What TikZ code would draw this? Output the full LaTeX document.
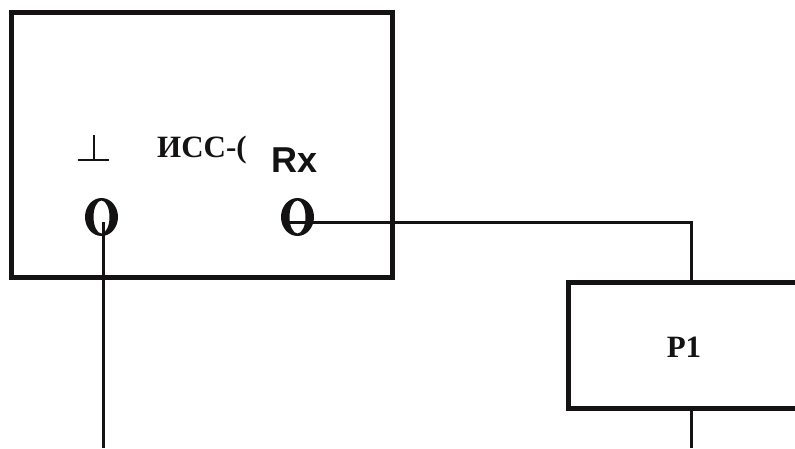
\documentclass[tikz,border=0pt]{standalone}
\usepackage{fontspec}
\setmainfont{Liberation Serif}
\newfontfamily\sansb{Liberation Sans}[BoldFont=* Bold]
\definecolor{ink}{HTML}{141213}
\tikzset{
  x=1pt,y=1pt,
  heavybox/.style={draw=ink,line width=5pt,minimum width=#1,inner sep=0pt,outer sep=0pt},
  wire/.style={draw=ink,line width=3pt,line join=miter},
  thinwire/.style={draw=ink,line width=2.4pt},
  serifl/.style={text=ink,inner sep=0pt,font=\fontsize{31}{31}\selectfont\bfseries,anchor=base west},
  sansl/.style={text=ink,inner sep=0pt,font=\fontsize{36}{36}\selectfont\sansb\bfseries,anchor=base west},
  ring/.style={fill=ink,even odd rule},
}
\begin{document}
\begin{tikzpicture}
\useasboundingbox (0,0) rectangle (795,-448);
\clip (0,0) rectangle (795,-448);
\fill[white] (0,0) rectangle (795,-448);
% boxes
\node[heavybox=381pt,minimum height=265pt] (iss) at (201.5,-145) {};
\node[heavybox=260pt,minimum height=126pt] (pone) at (698.5,-345) {};
% labels
\begin{scope}
\clip (150,-125) rectangle (245,-170);
\node[serifl] (isslabel) at (157,-157) {ИСС-(};
\end{scope}
\node[sansl] (rxlabel) at (271,-172) {Rx};
\node[serifl,anchor=base] (ponelabel) at (684,-357) {P1};
% ground symbol
\coordinate (gndL) at (78,-160);
\coordinate (gndR) at (109,-160);
\coordinate (gndM) at (94,-160);
\coordinate (gndT) at (94,-135);
\draw[thinwire] (gndL) -- (gndR);
\draw[thinwire] (gndM) -- (gndT);
% port rings
\fill[ring] (101.5,-217) ellipse [x radius=16.5,y radius=19] (101.5,-217) ellipse [x radius=8,y radius=16.5];
\fill[ring] (297.5,-217) ellipse [x radius=16.5,y radius=19] (297.5,-217) ellipse [x radius=8,y radius=16.5];
\coordinate (gndpin) at (103,-222);
\coordinate (rxpin) at (290,-222);
\coordinate (leftend) at (103,-448);
\coordinate (rightend) at (691,-448);
\coordinate (ptop) at (691,-282);
\coordinate (pbot) at (691,-408);
\coordinate (corner) at (691,-222);
% connectors
\draw[wire] (gndpin) -- (leftend);
\draw[wire] (rxpin) -- (corner) -- (ptop);
\draw[wire] (pbot) -- (rightend);
\end{tikzpicture}
\end{document}
